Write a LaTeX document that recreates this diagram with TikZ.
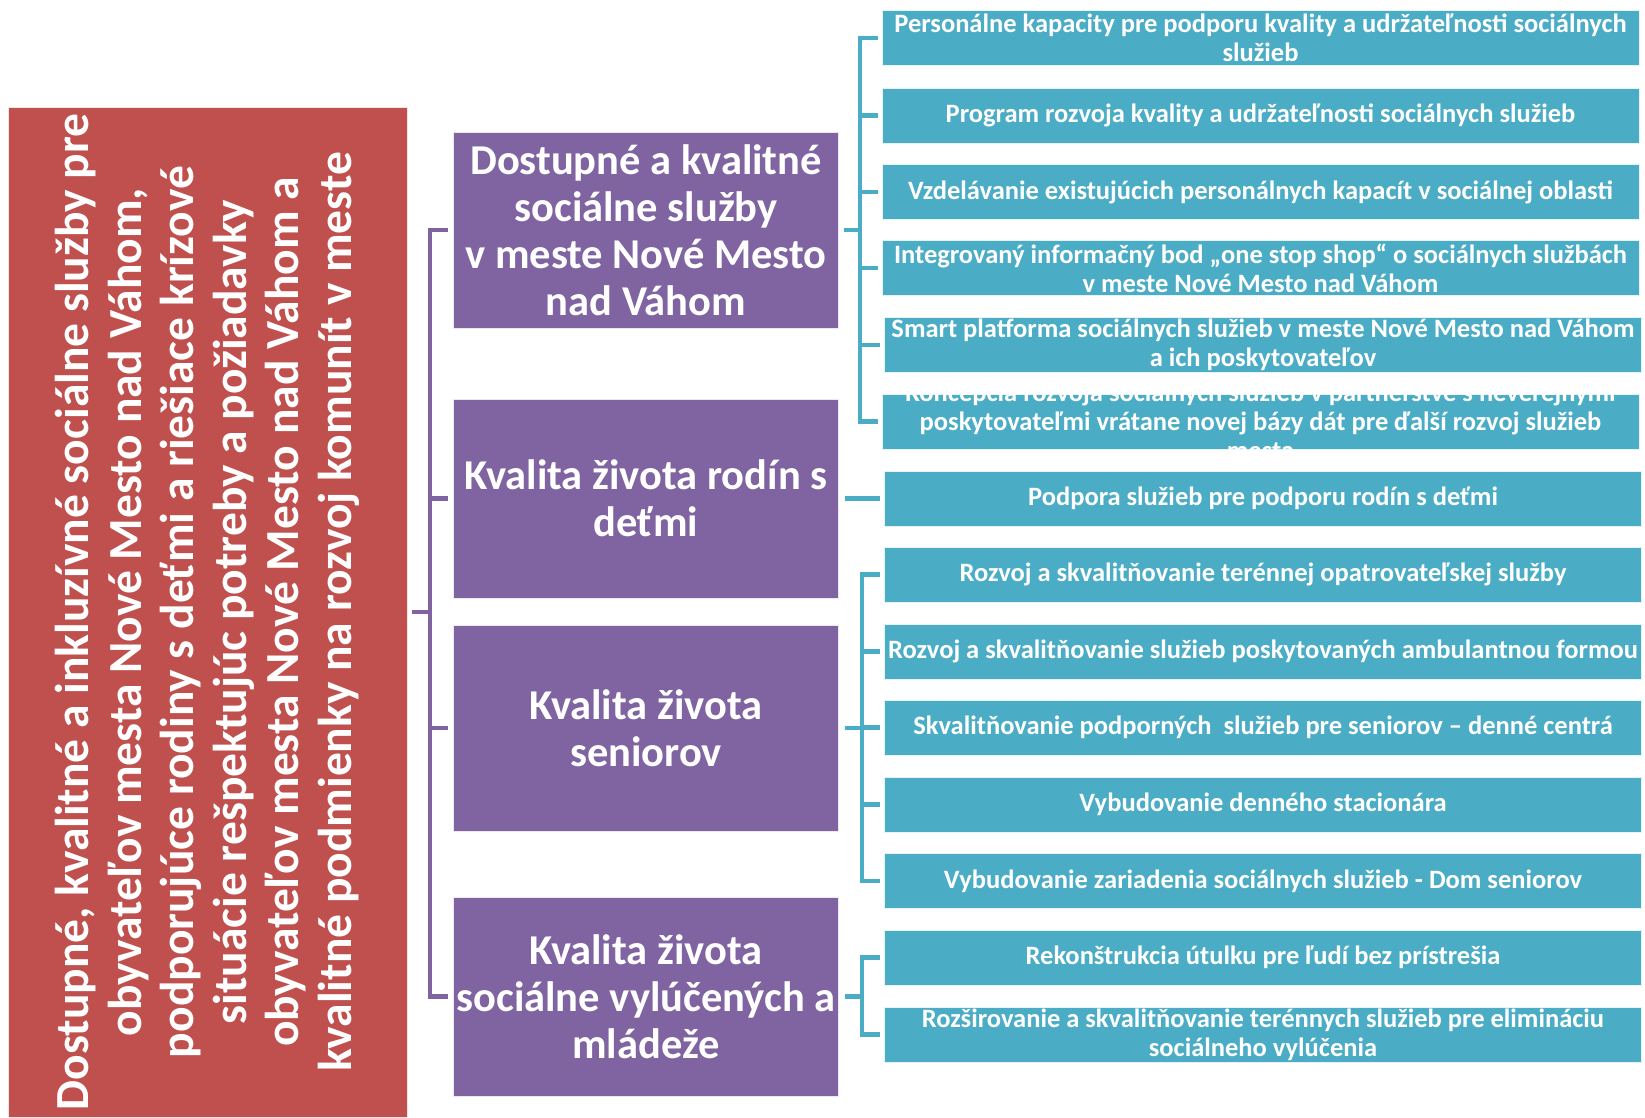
\documentclass[tikz,border=0pt]{standalone}
\usepackage{fontspec}
\setmainfont{Carlito}

\definecolor{visionred}{HTML}{C0504D}
\definecolor{goalpurple}{HTML}{8064A2}
\definecolor{taskcyan}{HTML}{4BACC6}

\begin{document}
\begin{tikzpicture}[x=1pt,y=-1pt,
    visionbox/.style={fill=visionred, draw=white!85!visionred, line width=0.8pt, text=white,
        font=\fontsize{47.5}{52.5}\selectfont\bfseries, align=center, rotate=90,
        minimum width=1010pt, minimum height=399pt, inner sep=1pt},
    goalbox/.style={fill=goalpurple, draw=white!85!goalpurple, line width=0.8pt, text=white,
        font=\fontsize{42.5}{47}\selectfont\bfseries, align=center,
        minimum width=385pt, inner sep=1pt},
    taskbox/.style={fill=taskcyan, draw=white!85!taskcyan, line width=0.8pt, text=white,
        font=\fontsize{26.5}{29}\selectfont\bfseries, align=center,
        minimum width=757pt, minimum height=55pt, inner sep=0.5pt},
    goalline/.style={draw=goalpurple, line width=4.5pt},
    taskline/.style={draw=taskcyan, line width=4.5pt}]
    \useasboundingbox (0,0) rectangle (1645,1117);

    % The main aim, written upwards
    \node[visionbox] (vision) at (207.5,612) {Dostupné, kvalitné a inkluzívné sociálne služby pre\\
        obyvateľov mesta Nové Mesto nad Váhom,\\
        podporujúce rodiny s deťmi a riešiace krízové\\
        situácie rešpektujúc potreby a požiadavky\\
        obyvateľov mesta Nové Mesto nad Váhom a\\
        kvalitné podmienky na rozvoj komunít v meste};

    % The four goals
    \node[goalbox, minimum height=196pt] (goal1) at (646,230) {Dostupné a kvalitné\\ sociálne služby\\ v meste Nové Mesto\\ nad Váhom};
    \node[goalbox, minimum height=199pt] (goal2) at (646,498.5) {Kvalita života rodín s\\ deťmi};
    \node[goalbox, minimum height=206pt] (goal3) at (646,728) {Kvalita života\\ seniorov};
    \node[goalbox, minimum height=199pt] (goal4) at (646,996.5) {Kvalita života\\ sociálne vylúčených a\\ mládeže};

    % The tasks of each goal
    \node[taskbox] (task1) at (1260.5,38) {Personálne kapacity pre podporu kvality a udržateľnosti sociálnych\\ služieb};
    \node[taskbox] (task2) at (1260.5,115.5) {Program rozvoja kvality a udržateľnosti sociálnych služieb};
    \node[taskbox] (task3) at (1260.5,192) {Vzdelávanie existujúcich personálnych kapacít v sociálnej oblasti};
    \node[taskbox] (task4) at (1260.5,268) {Integrovaný informačný bod „one stop shop“ o sociálnych službách\\ v meste Nové Mesto nad Váhom};
    \node[taskbox] (task5) at (1263,345) {Smart platforma sociálnych služieb v meste Nové Mesto nad Váhom\\ a ich poskytovateľov};
    \node[taskbox] (task6) at (1260.5,421.5) {};
    % this text is too long for its box and gets cut off
    \begin{scope}
        \clip (task6.north west) rectangle (task6.south east);
        \node[taskbox, fill=none, draw=none] (task6text) at (task6) {Koncepcia rozvoja sociálnych služieb v partnerstve s neverejnými\\
            poskytovateľmi vrátane novej bázy dát pre ďalší rozvoj služieb\\ mesta};
    \end{scope}
    \node[taskbox] (task7) at (1263,498.5) {Podpora služieb pre podporu rodín s deťmi};
    \node[taskbox] (task8) at (1263,574.5) {Rozvoj a skvalitňovanie terénnej opatrovateľskej služby};
    \node[taskbox] (task9) at (1263,651.5) {Rozvoj a skvalitňovanie služieb poskytovaných ambulantnou formou};
    \node[taskbox] (task10) at (1263,727.5) {Skvalitňovanie podporných \ služieb pre seniorov – denné centrá};
    \node[taskbox] (task11) at (1263,804.5) {Vybudovanie denného stacionára};
    \node[taskbox] (task12) at (1263,881) {Vybudovanie zariadenia sociálnych služieb - Dom seniorov};
    \node[taskbox] (task13) at (1263,957.5) {Rekonštrukcia útulku pre ľudí bez prístrešia};
    \node[taskbox] (task14) at (1263,1034.5) {Rozširovanie a skvalitňovanie terénnych služieb pre elimináciu\\ sociálneho vylúčenia};

    % Bracket from the aim to the goals
    \coordinate (gjoin) at (430,612);
    \draw[goalline] ([xshift=5pt]vision.south) -- (gjoin);
    \draw[goalline] ([xshift=-5pt]goal1.west) -- (gjoin |- goal1) -- (gjoin |- goal4) -- ([xshift=-5pt]goal4.west);
    \draw[goalline] (gjoin |- goal2) -- ([xshift=-5pt]goal2.west);
    \draw[goalline] (gjoin |- goal3) -- ([xshift=-5pt]goal3.west);

    % Brackets from the goals to their tasks
    \coordinate (tjoin1) at (860,230);
    \draw[taskline] ([xshift=5pt]goal1.east) -- (tjoin1);
    \draw[taskline] ([xshift=-4pt]task1.west) -- (tjoin1 |- task1) -- (tjoin1 |- task6) -- ([xshift=-4pt]task6.west);
    \foreach \t in {task2,task3,task4,task5}
        \draw[taskline] (tjoin1 |- \t) -- ([xshift=-4pt]\t.west);

    \draw[taskline] ([xshift=6pt]goal2.east) -- ([xshift=-4pt]task7.west);

    \coordinate (tjoin3) at (862,728);
    \draw[taskline] ([xshift=6pt]goal3.east) -- (tjoin3);
    \draw[taskline] ([xshift=-4pt]task8.west) -- (tjoin3 |- task8) -- (tjoin3 |- task12) -- ([xshift=-4pt]task12.west);
    \foreach \t in {task9,task10,task11}
        \draw[taskline] (tjoin3 |- \t) -- ([xshift=-4pt]\t.west);

    \coordinate (tjoin4) at (862,996.5);
    \draw[taskline] ([xshift=6pt]goal4.east) -- (tjoin4);
    \draw[taskline] ([xshift=-4pt]task13.west) -- (tjoin4 |- task13) -- (tjoin4 |- task14) -- ([xshift=-4pt]task14.west);
\end{tikzpicture}
\end{document}
